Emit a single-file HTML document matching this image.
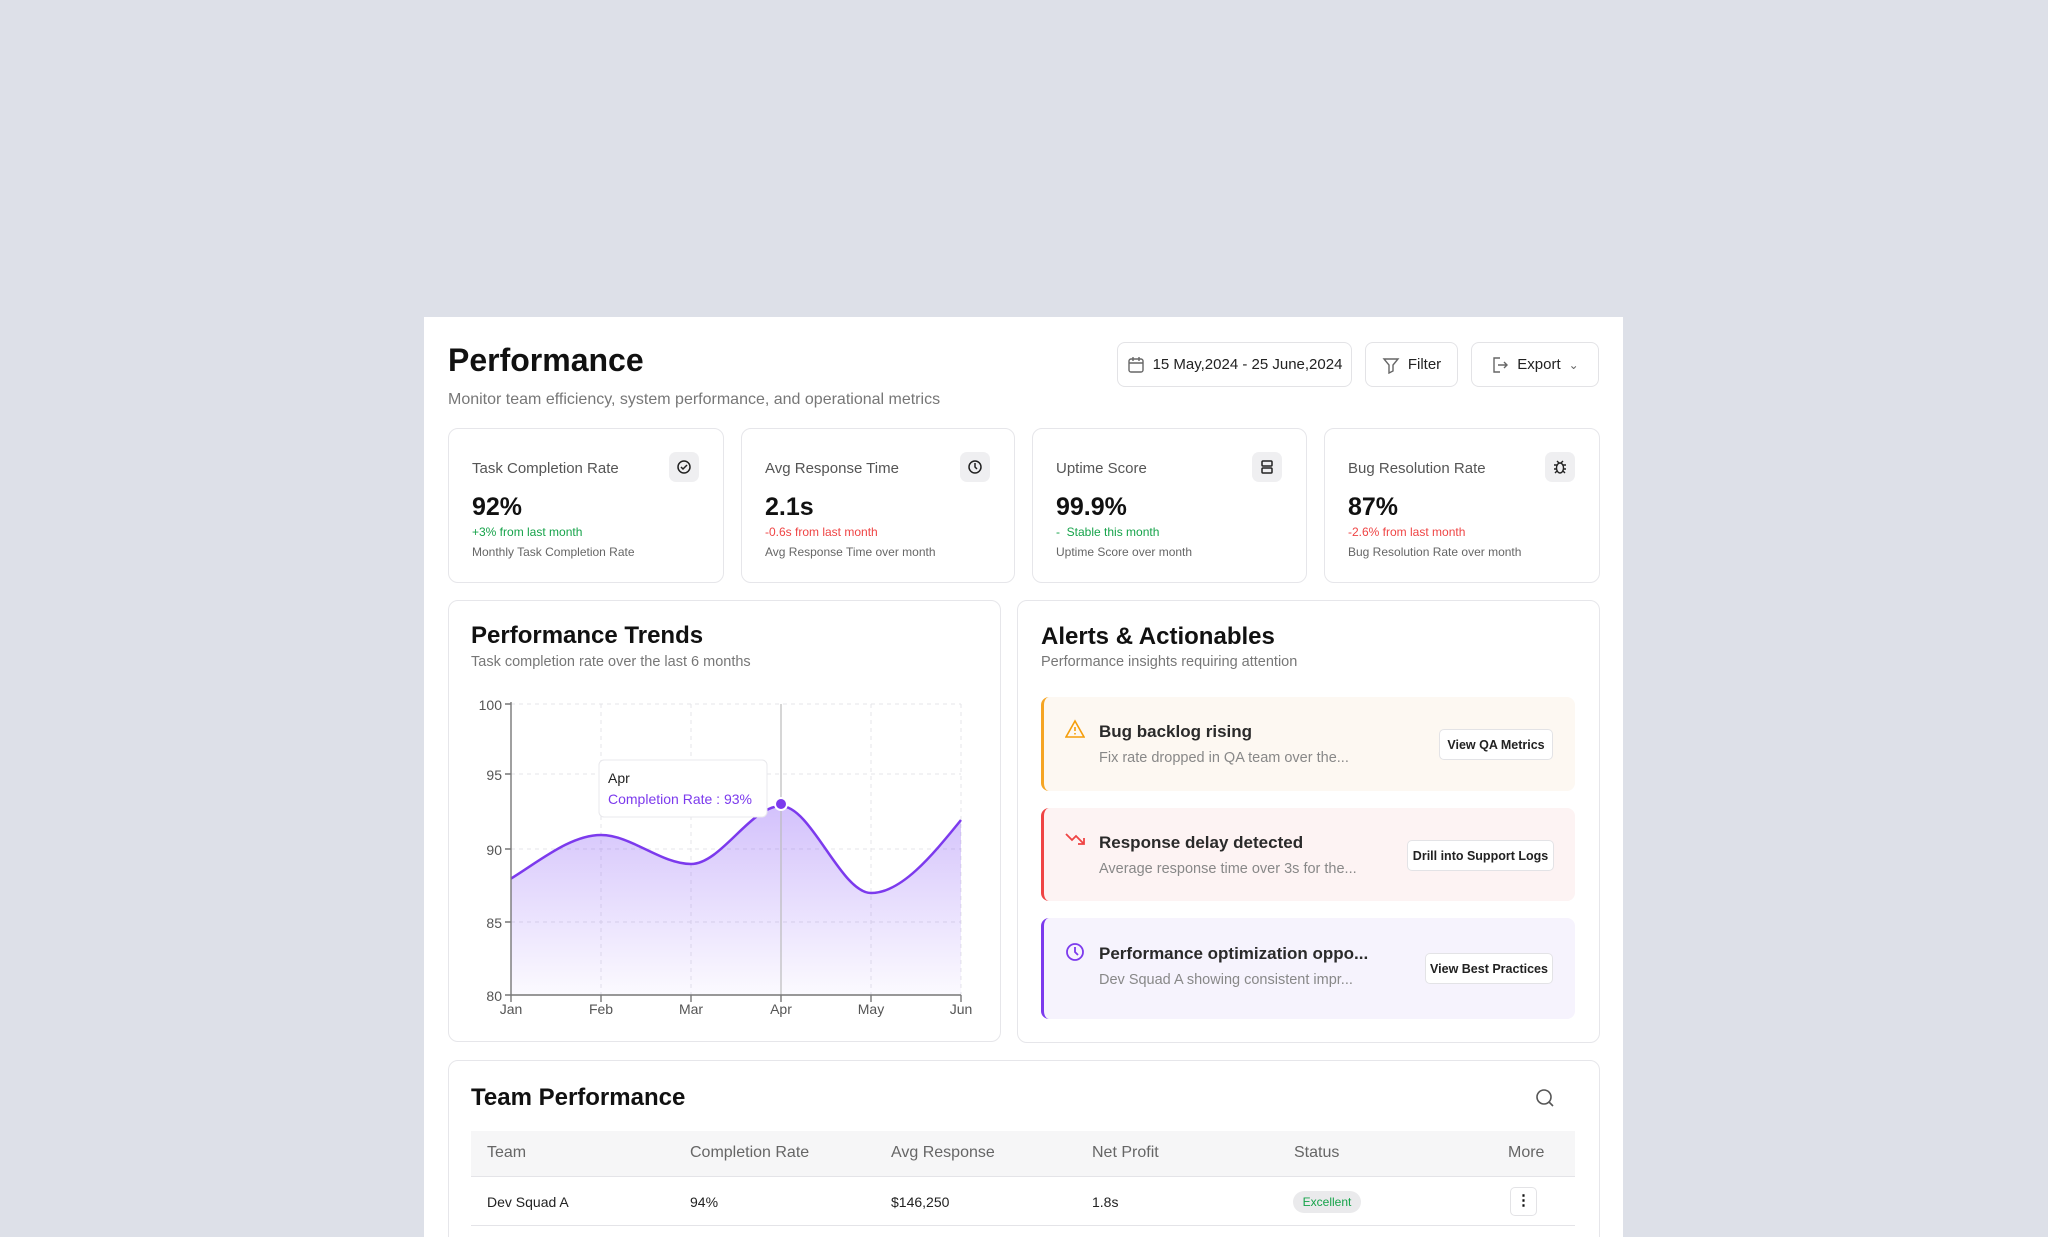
<!DOCTYPE html>
<html style="width:2048px;height:1237px;overflow:hidden"><head><meta charset="utf-8"><style>
*{box-sizing:border-box;margin:0;padding:0}
body{width:2048px;height:1237px;background:#dde0e8;font-family:"Liberation Sans",sans-serif;position:relative;overflow:hidden;color:#111}
.abs{position:absolute}
.main{left:424px;top:317px;width:1199px;height:920px;background:#fff}
.btn{position:absolute;border:1px solid #e3e3e6;border-radius:8px;background:#fff;font-size:15px;display:flex;align-items:center;justify-content:center;gap:8px;color:#222}
.card{position:absolute;border:1px solid #e6e6ea;border-radius:10px;background:#fff}
.stat .lab{position:absolute;left:23px;top:31px;font-size:15px;color:#555}
.stat .ic{position:absolute;right:24px;top:23px;width:30px;height:30px;border-radius:7px;background:#efeff1;display:flex;align-items:center;justify-content:center}
.stat .val{position:absolute;left:23px;top:64px;font-size:25px;font-weight:bold}
.stat .chg{position:absolute;left:23px;top:96px;font-size:12px}
.stat .desc{position:absolute;left:23px;top:116px;font-size:12px;color:#666}
.alert{position:absolute;left:1041px;width:534px;border-radius:8px}
.alert .t{position:absolute;left:55px;font-size:17px;font-weight:bold;color:#2a2a2a}
.alert .d{position:absolute;left:55px;font-size:14.5px;color:#888}
.alert .b{position:absolute;height:31px;border:1px solid #e3e3e6;border-radius:5px;background:#fff;font-size:12.5px;display:flex;align-items:center;justify-content:center;font-weight:bold;color:#222}
.th{position:absolute;top:1144px;font-size:16px;color:#666}
.td{position:absolute;top:1194px;font-size:14px;color:#222}
</style></head><body>
<div class="abs main"></div>
<div class="abs" style="left:448px;top:342px;font-size:32px;font-weight:bold">Performance</div>
<div class="abs" style="left:448px;top:391px;font-size:16px;color:#777">Monitor team efficiency, system performance, and operational metrics</div>
<div class="btn" style="left:1117px;top:342px;width:235px;height:45px"><svg width="18" height="18" viewBox="0 0 18 18" fill="none" stroke="#666" stroke-width="1.4"><rect x="2" y="3" width="14" height="13" rx="2"/><path d="M2 7h14M6 1v4M12 1v4"/></svg>15 May,2024 - 25 June,2024</div>
<div class="btn" style="left:1365px;top:342px;width:93px;height:45px"><svg width="18" height="18" viewBox="0 0 18 18" fill="none" stroke="#666" stroke-width="1.4"><path d="M2 3h14l-5 6v6l-4 2V9z"/></svg>Filter</div>
<div class="btn" style="left:1471px;top:342px;width:128px;height:45px"><svg width="18" height="18" viewBox="0 0 18 18" fill="none" stroke="#666" stroke-width="1.4"><path d="M9 2H3v14h6M7 9h9M13 6l3 3-3 3"/></svg>Export <span style="color:#666;font-size:12px">&#8964;</span></div>

<div class="card stat" style="left:448px;top:428px;width:276px;height:155px"><div class="lab">Task Completion Rate</div><div class="ic"><svg width="16" height="16" viewBox="0 0 16 16" fill="none" stroke="#222" stroke-width="1.5"><circle cx="8" cy="8" r="6"/><path d="M5 8l2 2 4-4"/></svg></div><div class="val">92%</div><div class="chg" style="color:#16a34a">+3% from last month</div><div class="desc">Monthly Task Completion Rate</div></div>
<div class="card stat" style="left:741px;top:428px;width:274px;height:155px"><div class="lab">Avg Response Time</div><div class="ic"><svg width="16" height="16" viewBox="0 0 16 16" fill="none" stroke="#222" stroke-width="1.5"><circle cx="8" cy="8" r="6"/><path d="M8 4v4l2 2"/></svg></div><div class="val">2.1s</div><div class="chg" style="color:#ef4444">-0.6s from last month</div><div class="desc">Avg Response Time over month</div></div>
<div class="card stat" style="left:1032px;top:428px;width:275px;height:155px"><div class="lab">Uptime Score</div><div class="ic"><svg width="16" height="16" viewBox="0 0 16 16" fill="none" stroke="#222" stroke-width="1.5"><rect x="3" y="2" width="10" height="5" rx="1"/><rect x="3" y="9" width="10" height="5" rx="1"/></svg></div><div class="val">99.9%</div><div class="chg" style="color:#16a34a">- &nbsp;Stable this month</div><div class="desc">Uptime Score over month</div></div>
<div class="card stat" style="left:1324px;top:428px;width:276px;height:155px"><div class="lab">Bug Resolution Rate</div><div class="ic"><svg width="16" height="16" viewBox="0 0 16 16" fill="none" stroke="#222" stroke-width="1.4"><ellipse cx="8" cy="9" rx="3.5" ry="5"/><path d="M2 6h3M11 6h3M2 10h2.5M11.5 10h2.5M3 14l2-2M13 14l-2-2M5 2l2 2M11 2l-2 2"/></svg></div><div class="val">87%</div><div class="chg" style="color:#ef4444">-2.6% from last month</div><div class="desc">Bug Resolution Rate over month</div></div>

<div class="card" style="left:448px;top:600px;width:553px;height:442px"></div>
<div class="abs" style="left:471px;top:622px;font-size:24px;font-weight:bold">Performance Trends</div>
<div class="abs" style="left:471px;top:654px;font-size:14.5px;color:#777">Task completion rate over the last 6 months</div>
<svg class="abs" style="left:0;top:0" width="1010" height="1040">
<defs><linearGradient id="g" x1="0" y1="0" x2="0" y2="1"><stop offset="0" stop-color="#8b5cf6" stop-opacity="0.38"/><stop offset="1" stop-color="#8b5cf6" stop-opacity="0.03"/></linearGradient></defs>
<g stroke="#e4e4e8" stroke-dasharray="4 4" stroke-width="1" fill="none">
<path d="M511 704H961M511 774H961M511 849H961M511 922H961M601 704V995M691 704V995M871 704V995M961 704V995"/></g>
<path d="M511 878.6 C541 860,571 835,601 835 C631 835,661 864,691 864 C721 864,751 806,781 806 C811 806,841 893,871 893 C901 893,931 857,961 820 L961 995 L511 995 Z" fill="url(#g)"/>
<path d="M511 878.6 C541 860,571 835,601 835 C631 835,661 864,691 864 C721 864,751 806,781 806 C811 806,841 893,871 893 C901 893,931 857,961 820" fill="none" stroke="#7c3aed" stroke-width="2.5"/>
<line x1="781" y1="704" x2="781" y2="995" stroke="#bbb" stroke-width="1.2"/>
<g stroke="#777" stroke-width="1.4" fill="none"><path d="M511 702V995H961M505 704H511M505 774H511M505 849H511M505 922H511M505 995H511M511 995v7M601 995v7M691 995v7M781 995v7M871 995v7M961 995v7"/></g>
<g font-size="14" fill="#555" text-anchor="end"><text x="502" y="710">100</text><text x="502" y="780">95</text><text x="502" y="855">90</text><text x="502" y="928">85</text><text x="502" y="1001">80</text></g>
<g font-size="14" fill="#555" text-anchor="middle"><text x="511" y="1014">Jan</text><text x="601" y="1014">Feb</text><text x="691" y="1014">Mar</text><text x="781" y="1014">Apr</text><text x="871" y="1014">May</text><text x="961" y="1014">Jun</text></g>
<rect x="599" y="760" width="168" height="57" rx="5" fill="#fff" stroke="#e8e8ec"/>
<text x="608" y="783" font-size="14" fill="#222">Apr</text>
<text x="608" y="804" font-size="14" fill="#7c3aed">Completion Rate : 93%</text>
<circle cx="781" cy="804" r="6" fill="#7c3aed" stroke="#fff" stroke-width="2"/>
</svg>

<div class="card" style="left:1017px;top:600px;width:583px;height:443px"></div>
<div class="abs" style="left:1041px;top:623px;font-size:24px;font-weight:bold">Alerts &amp; Actionables</div>
<div class="abs" style="left:1041px;top:654px;font-size:14.5px;color:#777">Performance insights requiring attention</div>

<div class="alert" style="top:697px;height:94px;background:#fdf8f2;border-left:3px solid #f5a524">
<svg class="abs" style="left:21px;top:22px" width="20" height="20" viewBox="0 0 20 20" fill="none" stroke="#f59e0b" stroke-width="1.6"><path d="M10 2L19 18H1z"/><path d="M10 8v4M10 14v1.5"/></svg>
<div class="t" style="top:25px">Bug backlog rising</div><div class="d" style="top:53px">Fix rate dropped in QA team over the...</div>
<div class="b" style="left:395px;top:32px;width:114px">View QA Metrics</div></div>
<div class="alert" style="top:808px;height:93px;background:#fdf3f3;border-left:3px solid #ef4444">
<svg class="abs" style="left:21px;top:24px" width="20" height="14" viewBox="0 0 20 14" fill="none" stroke="#ef4444" stroke-width="1.8"><path d="M1 2l6 6 4-4 8 8M13 12h6V6"/></svg>
<div class="t" style="top:25px">Response delay detected</div><div class="d" style="top:53px">Average response time over 3s for the...</div>
<div class="b" style="left:363px;top:32px;width:147px">Drill into Support Logs</div></div>
<div class="alert" style="top:918px;height:101px;background:#f6f3fd;border-left:3px solid #7c3aed">
<svg class="abs" style="left:21px;top:24px" width="20" height="20" viewBox="0 0 20 20" fill="none" stroke="#7c3aed" stroke-width="1.8"><circle cx="10" cy="10" r="8"/><path d="M10 5v5l3 3"/></svg>
<div class="t" style="top:26px">Performance optimization oppo...</div><div class="d" style="top:54px">Dev Squad A showing consistent impr...</div>
<div class="b" style="left:381px;top:35px;width:128px">View Best Practices</div></div>

<div class="card" style="left:448px;top:1060px;width:1152px;height:190px"></div>
<div class="abs" style="left:471px;top:1084px;font-size:24px;font-weight:bold">Team Performance</div>
<svg class="abs" style="left:1535px;top:1088px" width="20" height="20" viewBox="0 0 20 20" fill="none" stroke="#555" stroke-width="1.6"><circle cx="9" cy="9" r="7"/><path d="M14 14l4 4"/></svg>
<div class="abs" style="left:471px;top:1131px;width:1104px;height:46px;background:#f6f6f7;border-bottom:1px solid #e4e4e8"></div>
<div class="th" style="left:487px">Team</div><div class="th" style="left:690px">Completion Rate</div><div class="th" style="left:891px">Avg Response</div><div class="th" style="left:1092px">Net Profit</div><div class="th" style="left:1294px">Status</div><div class="th" style="left:1508px">More</div>
<div class="td" style="left:487px">Dev Squad A</div><div class="td" style="left:690px">94%</div><div class="td" style="left:891px">$146,250</div><div class="td" style="left:1092px">1.8s</div>
<div class="abs" style="left:1293px;top:1191px;width:68px;height:22px;border-radius:11px;background:#eaeaec;color:#16a34a;font-size:12px;display:flex;align-items:center;justify-content:center">Excellent</div>
<div class="abs" style="left:1510px;top:1187px;width:27px;height:29px;border:1px solid #e3e3e6;border-radius:5px;background:#fff;text-align:center;font-size:15px;line-height:26px;font-weight:bold">&#8942;</div>
<div class="abs" style="left:471px;top:1225px;width:1104px;height:1px;background:#e4e4e8"></div>
</body></html>
